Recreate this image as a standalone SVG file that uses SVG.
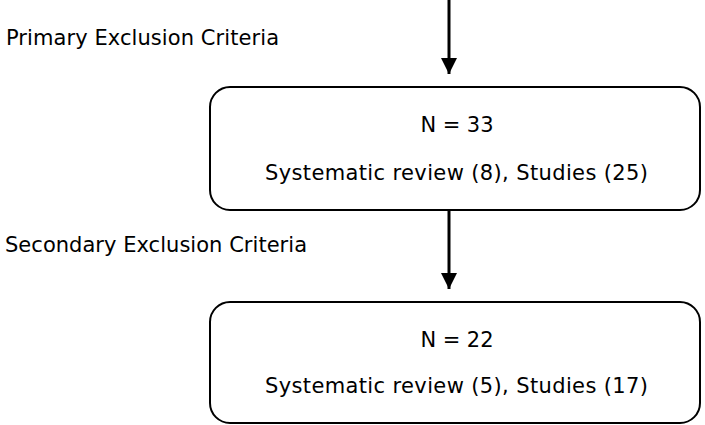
<svg xmlns="http://www.w3.org/2000/svg" width="705" height="425" viewBox="0 0 705 425">
<style>
text{font-family:"DejaVu Sans",Verdana,sans-serif;font-size:21px;fill:#000}
.c{text-anchor:middle}
.box{fill:#fff;stroke:#000;stroke-width:2}
.ln{stroke:#000;stroke-width:3;fill:none}
</style>
<defs>
<marker id="ah" viewBox="0 0 16 16" refX="16" refY="8" markerWidth="16" markerHeight="16" markerUnits="userSpaceOnUse" orient="auto">
<path d="M0,0 L16,8 L0,16 Z" fill="#000"/>
</marker>
</defs>
<rect width="705" height="425" fill="#fff"/>
<g id="connectors">
<line class="ln" x1="449" y1="0" x2="449" y2="74" marker-end="url(#ah)"/>
<line class="ln" x1="449" y1="211" x2="449" y2="289" marker-end="url(#ah)"/>
</g>
<g id="label1"><text x="6" y="45" textLength="273" lengthAdjust="spacing">Primary Exclusion Criteria</text></g>
<g id="label2"><text x="5" y="252" textLength="302" lengthAdjust="spacing">Secondary Exclusion Criteria</text></g>
<g id="box1">
<rect class="box" x="210" y="87" width="490" height="123" rx="20"/>
<text class="c" x="457" y="132" textLength="73" lengthAdjust="spacing">N = 33</text>
<text class="c" x="456.5" y="180" textLength="383" lengthAdjust="spacing">Systematic review (8), Studies (25)</text>
</g>
<g id="box2">
<rect class="box" x="210" y="302" width="490" height="121" rx="20"/>
<text class="c" x="457" y="347" textLength="73" lengthAdjust="spacing">N = 22</text>
<text class="c" x="456.5" y="393" textLength="383" lengthAdjust="spacing">Systematic review (5), Studies (17)</text>
</g>
</svg>
